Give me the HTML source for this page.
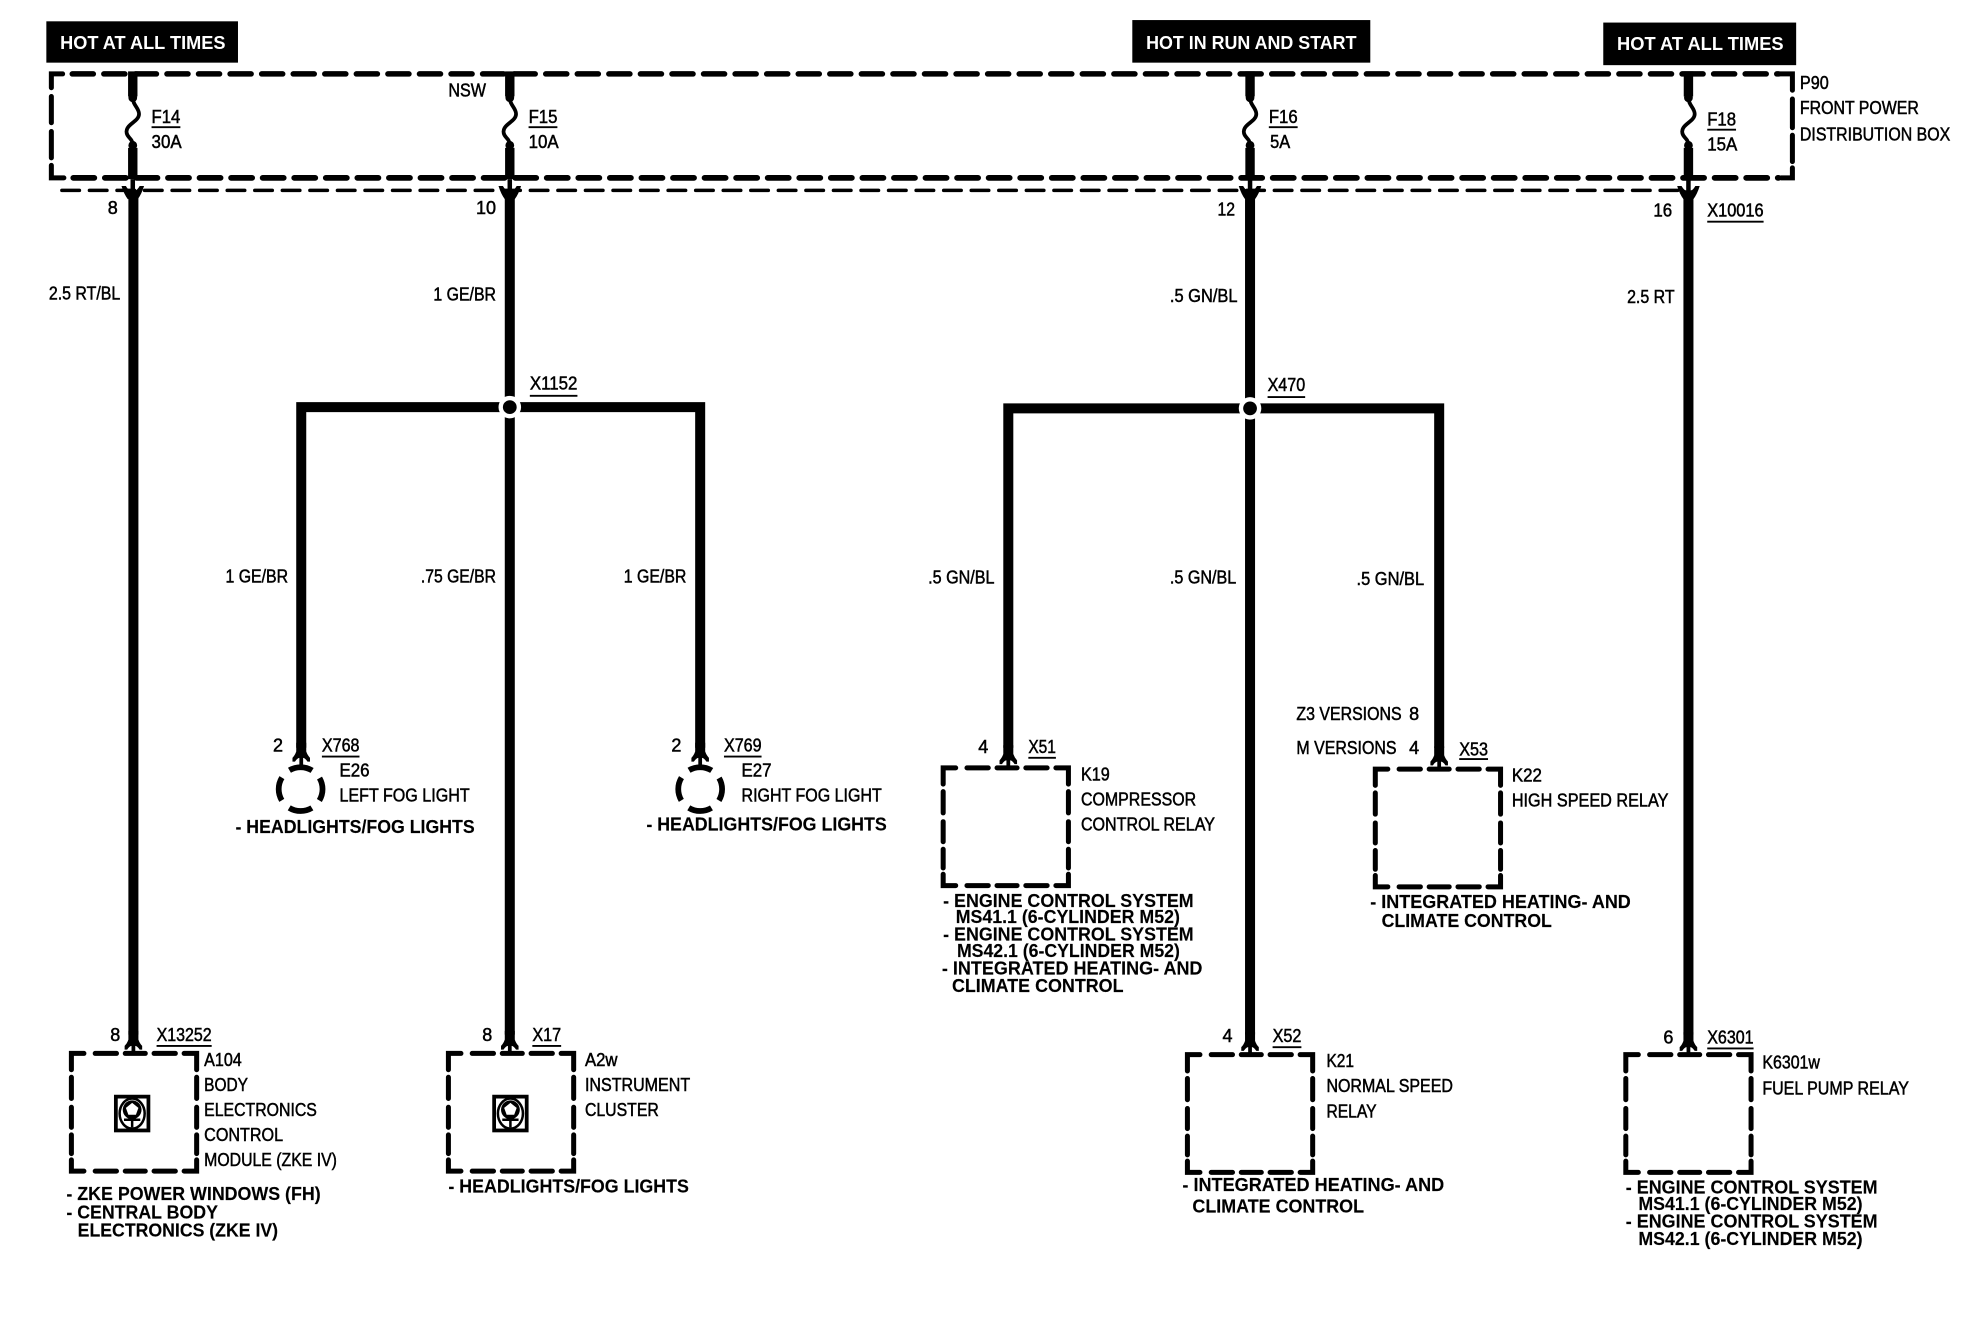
<!DOCTYPE html>
<html><head><meta charset="utf-8"><style>
html,body{margin:0;padding:0;background:#fff;width:1964px;height:1328px;overflow:hidden}
svg{display:block}
text{font-family:"Liberation Sans",sans-serif;font-size:14.8px;fill:#000;stroke:#000;stroke-width:.4}
.b{font-weight:bold;stroke-width:.1}
.w{fill:#fff;stroke:#fff;font-size:14.5px;font-weight:bold;stroke-width:0}
.d{fill:none;stroke:#000;stroke-linecap:round;stroke-linejoin:miter}
</style></head><body>
<svg xmlns="http://www.w3.org/2000/svg" width="1964" height="1328" viewBox="0 0 1568 1060.2">
<defs>
<g id="box" class="d" fill="none" stroke="#000" stroke-width="4">
<path d="M0 13V0H10M19 0H36M43 0H59M66 0H83M90 0H100V13"/>
<path d="M0 19V36M0 43V59M0 65V80"/>
<path d="M100 19V36M100 43V59M100 65V80"/>
<path d="M0 85V94H10M19 94H36M43 94H59M66 94H83M90 94H100V85"/>
</g>
<g id="end">
<path d="M-4 -18V-11Q-5 -8 -7 -6V-3H-5Q-3 -6 -1.500 -6V0H1.500V-6Q3 -6 5 -3H7V-6Q5 -8 4 -11V-18Z" fill="#000"/>
</g>
<g id="top">
<path d="M0 57V77M0 118V143" stroke="#000" stroke-width="7.5"/>
<path d="M0 78C0 84 5 86 5 91C5 97 -5 99 -5 105C-5 110 0 110 0 116" fill="none" stroke="#000" stroke-width="3"/>
<circle cx="0" cy="78" r="3.5" fill="#000"/><circle cx="0" cy="116" r="3.5" fill="#000"/>
<path d="M-9 148.500H-5.500Q-3.500 152 -1.800 152V143H1.800V152Q3.500 152 5.500 148.500H9Q7 155 4 159H-4Q-7 155 -9 148.500Z" fill="#000"/>
</g>
<g id="lamp" fill="none" stroke="#000">
<circle cx="0" cy="0" r="17.5" stroke-width="4.6" stroke-dasharray="19 8.5" stroke-dashoffset="9.5"/>
</g>
<g id="wheel">
<rect x="1.5" y="1.5" width="26" height="27" fill="#fff" stroke="#000" stroke-width="3"/>
<ellipse cx="14.5" cy="15" rx="10" ry="12" fill="#fff" stroke="#000" stroke-width="2"/>
<circle cx="14.500" cy="12" r="7.500" fill="#000"/>
<path d="M14.500 6.500L19.500 10.500L17.500 16H11.500L9.500 10.500Z" fill="#fff"/>
<path d="M14.500 18V26M8 20H21" stroke="#000" stroke-width="2"/>
</g>
</defs>
<rect width="1568" height="1061" fill="#fff"/>

<!-- header boxes -->
<rect x="37" y="17" width="153" height="33" fill="#000"/>
<rect x="904" y="16" width="190" height="34" fill="#000"/>
<rect x="1280" y="18" width="154" height="34" fill="#000"/>
<text class="w" x="48" y="39" textLength="132" lengthAdjust="spacingAndGlyphs">HOT AT  ALL TIMES</text>
<text class="w" x="915" y="39" textLength="168" lengthAdjust="spacingAndGlyphs">HOT IN RUN AND START</text>
<text class="w" x="1291" y="40" textLength="133" lengthAdjust="spacingAndGlyphs">HOT AT  ALL TIMES</text>

<!-- power distribution box -->
<g class="d">
<path d="M57.700 59H1420" stroke-width="4.4" stroke-dasharray="16.8 8.400"/>
<path d="M58.500 142H1420" stroke-width="4.6" stroke-dasharray="16.8 8.400"/>
<path d="M49.400 152H1345" stroke-width="2.8" stroke-dasharray="14 8"/>
<path d="M41 70V59H50M41 77V98M41 105V126M41 132V142H51" stroke-width="4"/>
<path d="M1421 59H1431V72M1431 79V102M1431 108V129M1431 134V142H1422" stroke-width="4"/>
</g>

<!-- fuses and main wires -->
<use href="#top" x="106"/><use href="#top" x="407"/><use href="#top" x="998"/><use href="#top" x="1348"/>
<path d="M106.500 157V826M407 157V826M998 157V826M1348 157V826" stroke="#000" stroke-width="8"/>

<!-- branches -->
<path d="M240.500 597V325H559V597" fill="none" stroke="#000" stroke-width="8"/>
<path d="M805 597V326H1149V597" fill="none" stroke="#000" stroke-width="8"/>
<circle cx="407" cy="325" r="9" fill="#fff"/><circle cx="407" cy="325" r="5.500" fill="#000"/>
<circle cx="998" cy="326" r="9" fill="#fff"/><circle cx="998" cy="326" r="5.500" fill="#000"/>

<!-- end connectors -->
<use href="#end" x="106.500" y="841"/><use href="#end" x="407" y="841"/>
<use href="#end" x="998" y="842"/><use href="#end" x="1348" y="842"/>
<use href="#end" x="805" y="613"/><use href="#end" x="1149" y="614"/>
<use href="#end" x="240.500" y="611"/><use href="#end" x="559" y="611"/>

<!-- component boxes -->
<use href="#box" x="57" y="841"/><use href="#box" x="358" y="841"/>
<use href="#box" x="753" y="613"/><use href="#box" x="1098" y="614"/>
<use href="#box" x="948" y="842"/><use href="#box" x="1298" y="842"/>
<use href="#wheel" x="91" y="874"/><use href="#wheel" x="393" y="874"/>
<use href="#lamp" x="240" y="630"/><use href="#lamp" x="559" y="630"/>

<!-- underlines -->
<path d="M121 101.500H144M422 101.500H445M1013 101.500H1036M1363 103.500H1386M1363 177H1408M423 316H461M1012 317H1042M257 604H287M578 604H608M821 605H843M1165 606H1188M125 835H169M425 835H448M1016 836H1039M1363 837H1400" stroke="#000" stroke-width="1.500"/>

<!-- labels -->
<text x="358" y="77" textLength="30" lengthAdjust="spacingAndGlyphs">NSW</text>
<text x="121" y="98" textLength="23" lengthAdjust="spacingAndGlyphs">F14</text>
<text x="422" y="98" textLength="23" lengthAdjust="spacingAndGlyphs">F15</text>
<text x="1013" y="98" textLength="23" lengthAdjust="spacingAndGlyphs">F16</text>
<text x="1363" y="100" textLength="23" lengthAdjust="spacingAndGlyphs">F18</text>
<text x="121" y="118" textLength="24" lengthAdjust="spacingAndGlyphs">30A</text>
<text x="422" y="118" textLength="24" lengthAdjust="spacingAndGlyphs">10A</text>
<text x="1014" y="118" textLength="16" lengthAdjust="spacingAndGlyphs">5A</text>
<text x="1363" y="120" textLength="24" lengthAdjust="spacingAndGlyphs">15A</text>
<text x="1437" y="71" textLength="23" lengthAdjust="spacingAndGlyphs">P90</text>
<text x="1437" y="91" textLength="95" lengthAdjust="spacingAndGlyphs">FRONT POWER</text>
<text x="1437" y="112" textLength="120" lengthAdjust="spacingAndGlyphs">DISTRIBUTION BOX</text>
<text x="86" y="171" textLength="8" lengthAdjust="spacingAndGlyphs">8</text>
<text x="380" y="171" textLength="16" lengthAdjust="spacingAndGlyphs">10</text>
<text x="972" y="172" textLength="14" lengthAdjust="spacingAndGlyphs">12</text>
<text x="1320" y="173" textLength="15" lengthAdjust="spacingAndGlyphs">16</text>
<text x="1363" y="173" textLength="45" lengthAdjust="spacingAndGlyphs">X10016</text>
<text x="39" y="239" textLength="57" lengthAdjust="spacingAndGlyphs">2.5 RT/BL</text>
<text x="346" y="240" textLength="50" lengthAdjust="spacingAndGlyphs">1 GE/BR</text>
<text x="934" y="241" textLength="54" lengthAdjust="spacingAndGlyphs">.5 GN/BL</text>
<text x="1299" y="242" textLength="38" lengthAdjust="spacingAndGlyphs">2.5 RT</text>
<text x="423" y="311" textLength="38" lengthAdjust="spacingAndGlyphs">X1152</text>
<text x="1012" y="312" textLength="30" lengthAdjust="spacingAndGlyphs">X470</text>
<text x="180" y="465" textLength="50" lengthAdjust="spacingAndGlyphs">1 GE/BR</text>
<text x="336" y="465" textLength="60" lengthAdjust="spacingAndGlyphs">.75 GE/BR</text>
<text x="498" y="465" textLength="50" lengthAdjust="spacingAndGlyphs">1 GE/BR</text>
<text x="741" y="466" textLength="53" lengthAdjust="spacingAndGlyphs">.5 GN/BL</text>
<text x="934" y="466" textLength="53" lengthAdjust="spacingAndGlyphs">.5 GN/BL</text>
<text x="1083" y="467" textLength="54" lengthAdjust="spacingAndGlyphs">.5 GN/BL</text>

<text x="218" y="600" textLength="8" lengthAdjust="spacingAndGlyphs">2</text>
<text x="257" y="600" textLength="30" lengthAdjust="spacingAndGlyphs">X768</text>
<text x="536" y="600" textLength="8" lengthAdjust="spacingAndGlyphs">2</text>
<text x="578" y="600" textLength="30" lengthAdjust="spacingAndGlyphs">X769</text>
<text x="271" y="620" textLength="24" lengthAdjust="spacingAndGlyphs">E26</text>
<text x="592" y="620" textLength="24" lengthAdjust="spacingAndGlyphs">E27</text>
<text x="271" y="640" textLength="104" lengthAdjust="spacingAndGlyphs">LEFT FOG LIGHT</text>
<text x="592" y="640" textLength="112" lengthAdjust="spacingAndGlyphs">RIGHT FOG LIGHT</text>
<text class="b" x="188" y="665" textLength="191" lengthAdjust="spacingAndGlyphs">- HEADLIGHTS/FOG LIGHTS</text>
<text class="b" x="516" y="663" textLength="192" lengthAdjust="spacingAndGlyphs">- HEADLIGHTS/FOG LIGHTS</text>

<text x="1035" y="575" textLength="84" lengthAdjust="spacingAndGlyphs">Z3 VERSIONS</text>
<text x="1125" y="575" textLength="8" lengthAdjust="spacingAndGlyphs">8</text>
<text x="1035" y="602" textLength="80" lengthAdjust="spacingAndGlyphs">M VERSIONS</text>
<text x="1125" y="602" textLength="8" lengthAdjust="spacingAndGlyphs">4</text>
<text x="1165" y="603" textLength="23" lengthAdjust="spacingAndGlyphs">X53</text>
<text x="781" y="601" textLength="8" lengthAdjust="spacingAndGlyphs">4</text>
<text x="821" y="601" textLength="22" lengthAdjust="spacingAndGlyphs">X51</text>

<text x="863" y="623" textLength="23" lengthAdjust="spacingAndGlyphs">K19</text>
<text x="863" y="643" textLength="92" lengthAdjust="spacingAndGlyphs">COMPRESSOR</text>
<text x="863" y="663" textLength="107" lengthAdjust="spacingAndGlyphs">CONTROL RELAY</text>
<text x="1207" y="624" textLength="24" lengthAdjust="spacingAndGlyphs">K22</text>
<text x="1207" y="644" textLength="125" lengthAdjust="spacingAndGlyphs">HIGH SPEED RELAY</text>

<text class="b" x="753" y="724" textLength="200" lengthAdjust="spacingAndGlyphs">- ENGINE CONTROL SYSTEM</text>
<text class="b" x="763" y="737" textLength="179" lengthAdjust="spacingAndGlyphs">MS41.1 (6-CYLINDER M52)</text>
<text class="b" x="753" y="751" textLength="200" lengthAdjust="spacingAndGlyphs">- ENGINE CONTROL SYSTEM</text>
<text class="b" x="764" y="764" textLength="178" lengthAdjust="spacingAndGlyphs">MS42.1 (6-CYLINDER M52)</text>
<text class="b" x="752" y="778" textLength="208" lengthAdjust="spacingAndGlyphs">- INTEGRATED HEATING- AND</text>
<text class="b" x="760" y="792" textLength="137" lengthAdjust="spacingAndGlyphs">CLIMATE CONTROL</text>
<text class="b" x="1094" y="725" textLength="208" lengthAdjust="spacingAndGlyphs">- INTEGRATED HEATING- AND</text>
<text class="b" x="1103" y="740" textLength="136" lengthAdjust="spacingAndGlyphs">CLIMATE CONTROL</text>

<text x="88" y="831" textLength="8" lengthAdjust="spacingAndGlyphs">8</text>
<text x="125" y="831" textLength="44" lengthAdjust="spacingAndGlyphs">X13252</text>
<text x="385" y="831" textLength="8" lengthAdjust="spacingAndGlyphs">8</text>
<text x="425" y="831" textLength="23" lengthAdjust="spacingAndGlyphs">X17</text>
<text x="976" y="832" textLength="8" lengthAdjust="spacingAndGlyphs">4</text>
<text x="1016" y="832" textLength="23" lengthAdjust="spacingAndGlyphs">X52</text>
<text x="1328" y="833" textLength="8" lengthAdjust="spacingAndGlyphs">6</text>
<text x="1363" y="833" textLength="37" lengthAdjust="spacingAndGlyphs">X6301</text>

<text x="163" y="851" textLength="30" lengthAdjust="spacingAndGlyphs">A104</text>
<text x="163" y="871" textLength="35" lengthAdjust="spacingAndGlyphs">BODY</text>
<text x="163" y="891" textLength="90" lengthAdjust="spacingAndGlyphs">ELECTRONICS</text>
<text x="163" y="911" textLength="63" lengthAdjust="spacingAndGlyphs">CONTROL</text>
<text x="163" y="931" textLength="106" lengthAdjust="spacingAndGlyphs">MODULE (ZKE IV)</text>
<text x="467" y="851" textLength="26" lengthAdjust="spacingAndGlyphs">A2w</text>
<text x="467" y="871" textLength="84" lengthAdjust="spacingAndGlyphs">INSTRUMENT</text>
<text x="467" y="891" textLength="59" lengthAdjust="spacingAndGlyphs">CLUSTER</text>
<text x="1059" y="852" textLength="22" lengthAdjust="spacingAndGlyphs">K21</text>
<text x="1059" y="872" textLength="101" lengthAdjust="spacingAndGlyphs">NORMAL SPEED</text>
<text x="1059" y="892" textLength="40" lengthAdjust="spacingAndGlyphs">RELAY</text>
<text x="1407" y="853" textLength="46" lengthAdjust="spacingAndGlyphs">K6301w</text>
<text x="1407" y="874" textLength="117" lengthAdjust="spacingAndGlyphs">FUEL PUMP RELAY</text>

<text class="b" x="53" y="958" textLength="203" lengthAdjust="spacingAndGlyphs">- ZKE POWER WINDOWS (FH)</text>
<text class="b" x="53" y="973" textLength="121" lengthAdjust="spacingAndGlyphs">- CENTRAL BODY</text>
<text class="b" x="62" y="987" textLength="160" lengthAdjust="spacingAndGlyphs">ELECTRONICS (ZKE IV)</text>
<text class="b" x="358" y="952" textLength="192" lengthAdjust="spacingAndGlyphs">- HEADLIGHTS/FOG LIGHTS</text>
<text class="b" x="944" y="951" textLength="209" lengthAdjust="spacingAndGlyphs">- INTEGRATED HEATING- AND</text>
<text class="b" x="952" y="968" textLength="137" lengthAdjust="spacingAndGlyphs">CLIMATE CONTROL</text>
<text class="b" x="1298" y="953" textLength="201" lengthAdjust="spacingAndGlyphs">- ENGINE CONTROL SYSTEM</text>
<text class="b" x="1308" y="966" textLength="179" lengthAdjust="spacingAndGlyphs">MS41.1 (6-CYLINDER M52)</text>
<text class="b" x="1298" y="980" textLength="201" lengthAdjust="spacingAndGlyphs">- ENGINE CONTROL SYSTEM</text>
<text class="b" x="1308" y="994" textLength="179" lengthAdjust="spacingAndGlyphs">MS42.1 (6-CYLINDER M52)</text>
</svg>
</body></html>
